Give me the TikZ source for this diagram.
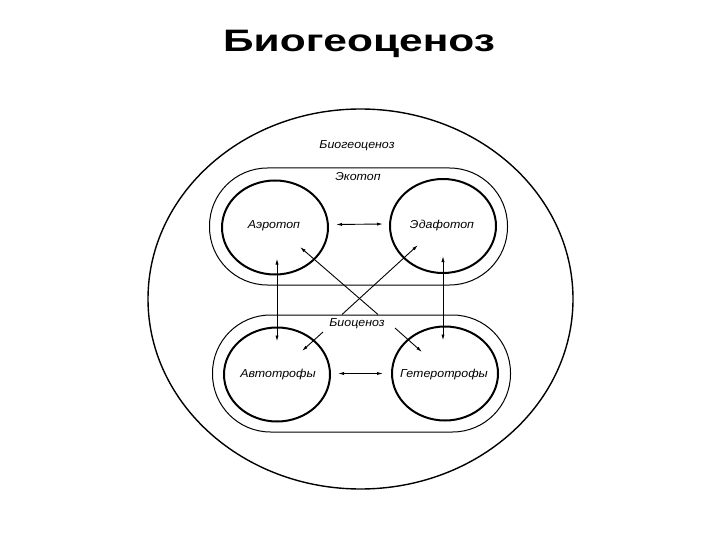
\documentclass[tikz,border=0pt]{standalone}
\usepackage{fontspec}
\setmainfont{Liberation Sans}
\usetikzlibrary{arrows.meta,shapes.geometric,calc}
\newcommand\wdlabel[1]{\scalebox{1.08}[1]{#1}}
\begin{document}
\begin{tikzpicture}[x=1pt,y=-1pt,
  outerell/.style={draw, ellipse, line width=1.4pt, minimum width=425pt, minimum height=380pt, inner sep=0pt},
  stadium/.style={draw, rectangle, rounded corners=58pt, line width=1.0pt, minimum width=298pt, minimum height=117pt, inner sep=0pt},
  part/.style={draw, ellipse, line width=2pt, minimum width=106pt, minimum height=94pt, inner sep=0pt},
  lbl/.style={font=\itshape\fontsize{11.5}{13}\selectfont, inner sep=1pt, anchor=base},
  arr/.style={line width=0.9pt, -{Latex[length=6pt,width=3.2pt]}},
  darr/.style={line width=0.9pt, {Latex[length=6pt,width=3.2pt]}-{Latex[length=6pt,width=3.2pt]}}
]
\useasboundingbox (0,0) rectangle (720,540);
\node[font=\bfseries\fontsize{31}{36}\selectfont] (title) at (359,44) {\scalebox{1.37}[1]{Биогеоценоз}};
\node[outerell] (bgc) at (360.5,299) {};
\node[stadium] (eko) at (358.5,226.5) {};
\node[stadium] (bio) at (361.5,373.5) {};
\node[part] (aer) at (275,227.5) {};
\node[part] (eda) at (443,226) {};
\node[part] (aut) at (277,374.5) {};
\node[part] (het) at (445,373.5) {};
\node[lbl] (aerT) at ($(aer.center)+(-1,1)$) {\wdlabel{Аэротоп}};
\node[lbl] (edaT) at ($(eda.center)+(-1,2.5)$) {\wdlabel{Эдафотоп}};
\node[lbl] (autT) at ($(aut.center)+(1,3)$) {\wdlabel{Автотрофы}};
\node[lbl] (hetT) at ($(het.center)+(-1,3.5)$) {\wdlabel{Гетеротрофы}};
\node[lbl] (bgcT) at (357,149) {\wdlabel{Биогеоценоз}};
\node[lbl] (ekoT) at (358,181) {\wdlabel{Экотоп}};
\node[lbl] (bioT) at (357,326) {\wdlabel{Биоценоз}};
% horizontal links
\draw[darr] ($(aer.east)+(7,-3)$) -- ($(eda.west)+(-6,-2)$);
\draw[darr] ($(aut.east)+(7,-1)$) -- ($(het.west)+(-8,0)$);
% vertical links
\draw[darr] ($(aut.north |- aer.south)+(0,-17)$) -- ($(aut.north)+(0,15)$);
\draw[darr] ($(eda.south)+(0,-18)$) -- ($(eda.south |- het.north)+(0,15)$);
% crossing links from the biocenosis
\draw[arr] ($(bio.north)+(16.5,0)$) -- ($(aer.center)+(25,19.5)$);
\draw[arr] ($(bio.north)+(-19.5,0)$) -- ($(eda.center)+(-25,19)$);
% biocenosis to its parts
\draw[arr] ($(bioT.base)+(-34,6)$) -- ($(aut.center)+(25,-23.5)$);
\draw[arr] ($(bioT.base)+(38,2)$) -- ($(het.center)+(-23,-21.5)$);
\end{tikzpicture}
\end{document}
